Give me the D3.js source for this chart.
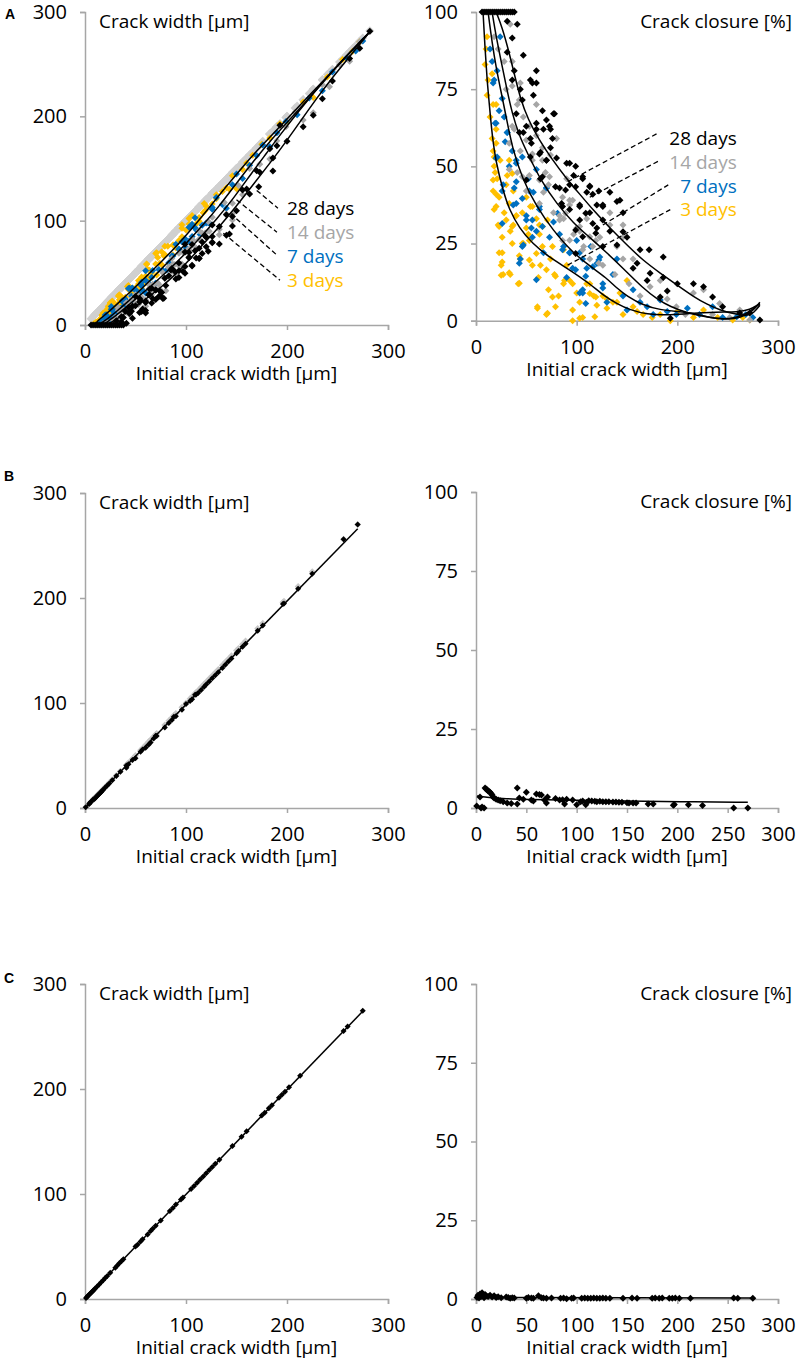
<!DOCTYPE html>
<html>
<head>
<meta charset="utf-8">
<script src="https://cdn.jsdelivr.net/npm/d3@7"></script>
<style>
  body { margin: 0; background: #fff; }
  text { font-family: "Open Sans", sans-serif; }
</style>
</head>
<body>
<div id="chart"></div>
<script>
// ---- data: [initial crack width (µm), crack closure (%)] ----
var dayNames = ["28 days", "14 days", "7 days", "3 days"];

var a3 = [[9,83],[10,88],[11,92],[11,73],[12,78],[14,66],[16,80],[16,59],[17,70],[17,55],[17,42],[18,36],[19,48],[20,62],
  [21,46],[22,31],[23,40],[24,52],[26,22],[26,19],[27,15],[28,35],[30,44],[31,47],[33,38],[34,29],[34,15],[36,25],[37,31],
  [37,42],[40,34],[42,12],[44,20],[47,25],[50,30],[52,28],[54,37],[56,18],[60,33],[61,4],[62,14],[63,31],[64,18],[66,24],
  [70,2],[72,10],[74,20],[78,15],[82,8],[87,12],[87,23],[90,18],[93,13],[96,0],[100,9],[103,6],[106,1],[110,12],[113,12],
  [117,8],[120,5],[126,8],[130,4],[130,7],[136,6],[140,6],[143,9],[146,2],[150,13],[156,4.5],[160,3],[166,2],[175,1],
  [183,2],[193,0],[200,3],[216,1],[226,3.5],[240,1],[255,0.2],[265,1],[272,0.2],
  [23,22],[25,18],[33,15.5],[43,12.1],[25,14.7],[43,21],[46,25],[53,26],[63,28],[66,30.5],[71,32.6],[76,24],[70,16.5],
  [79,14.4],[76,7.7],[88,13],[96,12],[61,4.5],[71,2.4],[79,4.5],[96,3.5],[103,0.8],[118,1.3],[119,7.7],[113,8.8],
  [53,19.7],[60,21.8],[36,30.5],[30,32.6],[20,37],[20,41],[17,45.6],[18,50],[18,53],[20,57.5],[20,70],[33,52],[36,47.7],
  [50,40],[56,37],[40,34],[46,35],[26,27],[23,30.5]];

var a7 = [[14,88],[16,84],[18,78],[19,64],[21,81],[21,53],[23,68],[24,92],[26,72],[27,44],[29,58],[31,61],[33,50],[36,55],
  [37,37.5],[40,52],[40,45],[44,20],[46,39.6],[47,24.5],[50,34],[52,46],[55,30],[57,41.6],[60,29],[63,36],[67,22],[70,43],
  [73,27],[77,32],[83,28],[87,24],[90,14],[93,22],[96,17],[100,26],[103,22],[103,9],[106,20],[106,9],[110,17],[114,24],
  [120,18.5],[123,20.6],[126,10.6],[126,12],[130,6],[136,15],[140,20],[146,8],[150,3.5],[156,10],[163,6],[170,4.5],
  [176,2],[183,6.7],[190,3],[199,2],[210,4],[222,2],[235,4.5],[245,1],[259,1.3],[268,2],[275,1],
  [17,77],[28,66],[20,64],[31,61],[20,52.6],[40,51],[46,53],[26,42],[38,43],[53,42],[70,43],[60,49],[40,38],[50,32.6],
  [26,31.5],[56,32.6],[63,37],[66,30.5],[81,34.8],[46,24],[56,27],[43,18.6],[60,13.3],[86,23],[93,22],[99,16.5],
  [109,14.4],[106,10],[116,17.5],[122,19.7],[109,5.6]];

var a14 = [[18,92],[22,88],[28,84],[30,75],[34,96],[36,84],[38,62],[41,70],[41,48],[44,77],[44,55],[47,66],[50,42],[53,63],
  [53,47],[56,52],[60,70],[60,60],[63,38],[66,56],[67,41.6],[69,48],[72,44],[74,53.7],[77,35],[80,59],[83,34],[87,33],
  [90,46],[93,37.5],[93,39],[97,28],[100,30],[103,29],[107,24],[110,33],[113,20],[119,26],[123,27],[126,18],[133,31],
  [133,35],[138,15],[140,24],[146,27],[146,20],[146,31],[152,12],[156,20],[163,8],[173,11],[183,13],[190,7],[199,4.5],
  [208,2],[216,9],[226,10],[235,2],[242,5.6],[252,1],[262,3.5],[272,0.2],
  [36,76],[43,71.5],[36,63],[50,58.5],[33,57.5],[56,54],[66,52],[33,49],[46,46.6],[63,45.6],[73,46.6],[79,43.4],
  [89,34.8],[96,39],[86,40],[103,30.5],[83,32.6],[93,26.1],[113,27.2],[86,26],[106,23],[116,24],[122,18.6]];

var a28 = [[6,100],[8,100],[10,100],[12,100],[14,100],[16,100],[18,100],[20,100],[22,100],[24,100],[26,100],[28,100],
  [30,100],[32,100],[34,100],[36,100],[38,100],
  [31,97],[41,96],[36,91.6],[31,87],[47,86],[38,81],[60,81],[54,78],[44,75],[60,77],[57,73],[77,67],[70,65],[60,64],
  [54,59],[67,62],[74,62],[47,61],[64,54.6],[74,56],[54,53],[80,52.7],[64,46],[90,51],[97,47],[93,44],[106,46],[110,41.6],
  [83,43],[120,37.5],[126,37.5],[113,35],[103,37.5],[140,38.6],[146,35],[146,28.8],[133,29],[140,24.5],[113,43.6],
  [133,41.6],[143,39],[103,32.6],[126,32.6],[150,27],[163,23],[172,23],[186,20.6],[160,18.6],[173,15.4],[186,14],
  [190,9.6],[200,12],[216,12],[226,11],[235,7.7],[245,4.5],[262,2.5],[272,2.5],[282,0.2],[193,0.8],[183,7.7],[170,13],
  [70,52],[85,38],[120,30],[156,17],
  [36,78],[56,77],[46,71.5],[40,67],[66,68],[78,67],[50,63],[60,62],[43,61],[73,63],[76,59],[55,57.5],[63,54],[70,52],
  [50,45.6],[66,46.6],[79,43.4],[93,51],[99,50],[106,46.6],[113,43.4],[116,41],[99,43.4],[89,42.3],[86,37],[103,37],
  [109,34.8],[122,42],[126,37],[99,29.4],[106,27.2],[116,31.5],[119,28.3],[126,24],[99,21.8],[93,36]];

// trend lines, crack closure (%) vs initial width
var t3 = [[7,100],[9,88],[11,78],[13,71],[16,60],[20,51],[27,42],[33,36],[43,30],[56,25],[73,20.5],[93,16.5],[113,12],
  [126,8.3],[140,5.5],[153,3.5],[170,2],[190,1.8],[210,2.3],[240,2.8],[260,2.8],[272,3.5],[282,5.5]];
var t7 = [[12,100],[16,90],[20,82],[25,74],[30,66],[36,56],[46,46],[60,37],[76,29.5],[96,22],[116,17],[129,14],[140,10.5],
  [150,8],[166,5],[183,3.5],[200,3],[216,2.5],[230,1.2],[242,0.5],[258,0.8],[270,2.5],[282,5.5]];
var t14 = [[16,100],[20,92],[25,84],[30,76],[36,67],[43,60],[50,55],[65,45],[80,38],[97,31.5],[113,27],[130,22],[146,17],
  [166,10.5],[180,7],[193,4.5],[210,2.5],[226,1.3],[249,0.3],[263,1],[275,3],[282,6]];
var t28 = [[20,100],[26,95],[32,88],[38,80],[44,72],[52,65],[62,59],[75,52.5],[90,46],[103,41],[116,36],[133,30],
  [150,24.5],[166,19.5],[183,15.4],[200,11.5],[216,7.8],[230,5.2],[242,3.5],[256,2.2],[269,1.5],[276,2.5],[282,5]];

// trend lines, crack width (µm) vs initial width
var w3 = [[10,0],[12,3.6],[16,6.7],[20,10],[27,15.7],[35,23],[44,31],[60,46],[75,60],[93,78],[110,97],[126,116],[140,133],
  [153,148],[170,167],[190,187],[210,208],[240,238],[260,259],[282,281]];
var w7 = [[14,0],[16,1.9],[20,4.4],[24,7.2],[30,12],[41,21],[52,31],[67,45],[83,61],[100,78],[117,96],[133,114],[150,136],
  [166,156],[183,176],[200,194],[216,211],[242,240],[262,261],[282,281]];
var w14 = [[18,0],[21,2.5],[26,5.7],[31,9.3],[40,16.4],[50,25],[65,37],[80,50],[97,66],[113,82.5],[130,101],[146,120],
  [166,147],[180,165],[193,182],[210,203],[226,222],[249,248],[282,281]];
var w28 = [[21,0],[25,2],[32,5.8],[41,12.3],[50,18],[60,24.6],[75,36],[90,48.6],[103,62],[116,76.6],[133,94],[150,114],
  [166,134],[183,155],[200,177],[216,199],[230,218],[242,233.5],[256,250],[269,265.5],[282,281]];

var b = [[0.7,0.6],[4,3.5],[5,0],[6,0.3],[8,0],[9,6.3],[10,6],[11,5.8],[12,5.4],[13,5.2],[14,5],[15,4.6],[16,4.1],
  [17,3.5],[18,3.2],[20,2.8],[22,2.5],[24,2.3],[27,2],[31,1.6],[35,1.4],[41,1.3],[41,6.3],[43,3.2],[47,2.8],[50,5],
  [55,2.5],[57,2.2],[60,4.4],[63,4.3],[65,4.1],[68,2.5],[70,1.6],[71,3.5],[79,3],[83,2.5],[86,2.6],[88,1.3],[90,2.8],
  [96,2.5],[100,1],[104,2],[106,2.2],[109,1],[110,1.8],[112,2.3],[115,2.2],[118,2.1],[120,2],[123,2.1],[126,2],[129,2],
  [132,2],[136,1.9],[139,1.9],[142,1.8],[145,1.8],[150,1.7],[152,1.6],[156,1.6],[159,1.6],[171,1.3],[176,1.3],[196,0.9],
  [197,1.1],[211,1],[225,0.8],[256,0],[270,0]];
var bTrend = [[1,3.8],[10,3.4],[25,3.0],[50,2.7],[100,2.4],[150,2.2],[200,2.0],[270,1.8]];
var bWidthTrend = [[1,1],[270,266]];

var c = [[1,0.5],[2,1.2],[3,0.3],[4,1.6],[5,0.8],[6,2],[7,1.2],[8,0.4],[9,1.4],[10,1],[12,0.8],[14,1.2],[16,0.6],[18,1],
  [20,0.5],[22,0.7],[25,0.4],[30,0.6],[32,0.5],[34,0.2],[36,0.4],[38,0.3],[50,0.2],[52,0.5],[55,0.3],[57,0.2],[62,1],
  [65,0.4],[67,0.3],[70,0.2],[75,0.3],[84,0.2],[87,0.3],[90,0.1],[95,0.2],[97,0.3],[105,0.2],[108,0.3],[111,0.2],
  [114,0.2],[117,0.3],[120,0.2],[123,0.2],[126,0.3],[129,0.2],[133,0.2],[146,0.2],[155,0.3],[160,0.2],[175,0.2],
  [178,0.3],[182,0.2],[185,0.3],[192,0.2],[195,0.2],[198,0.3],[202,0.2],[213,0.2],[256,0.3],[260,0.2],[275,0.2]];
var cTrend = [[0,0.5],[275,0.3]];
var cWidthTrend = [[0,0],[275,274]];

var xTicksWide = [0, 100, 200, 300],
    xTicksFine = [0, 50, 100, 150, 200, 250, 300],
    yTicksWidth = [0, 100, 200, 300],
    yTicksClosure = [0, 25, 50, 75, 100];

// ---- drawing ----
var W = 798, H = 1361;
var axisColor = "#a6a6a6";
var seriesColors = { "3": "#FFC000", "7": "#0070C0", "14": "#A6A6A6", "28": "#000000" };

var svg = d3.select("#chart").append("svg")
    .attr("width", W)
    .attr("height", H);
svg.append("rect").attr("width", W).attr("height", H).attr("fill", "#fff");

function diamond(r) {
    return "M0," + (-r) + "L" + r + ",0L0," + r + "L" + (-r) + ",0Z";
}

function widthOf(d) { return d[0] * (1 - d[1] / 100); }
function closureOf(d) { return d[1]; }
function initialOf(d) { return d[0]; }

function makePanel(o) {
    var x = d3.scaleLinear().domain([0, 300]).range([o.left, o.right]);
    var y = d3.scaleLinear().domain([0, o.ymax]).range([o.bottom, o.top]);
    var g = svg.append("g");

    var xa = g.append("g")
        .attr("transform", "translate(0," + o.bottom + ")")
        .call(d3.axisBottom(x).tickValues(o.xticks).tickSize(5).tickPadding(14));
    var ya = g.append("g")
        .attr("transform", "translate(" + o.left + ",0)")
        .call(d3.axisLeft(y).tickValues(o.yticks).tickSize(5).tickPadding(13));
    [xa, ya].forEach(function(a) {
        a.selectAll("path, line").attr("stroke", axisColor).attr("stroke-width", 1.5);
        a.selectAll("text").attr("fill", "#000").style("font-size", "20px")
            .style("font-family", "'Open Sans', sans-serif");
    });

    g.append("text")
        .attr("x", (o.left + o.right) / 2)
        .attr("y", o.bottom + 55)
        .attr("text-anchor", "middle")
        .style("font-size", "19px")
        .text("Initial crack width [µm]");

    if (o.closure) {
        g.append("text").attr("x", 792).attr("y", o.top + 16)
            .attr("text-anchor", "end").style("font-size", "19px")
            .text("Crack closure [%]");
    } else {
        g.append("text").attr("x", 99).attr("y", o.top + 16)
            .style("font-size", "19px")
            .text("Crack width [µm]");
    }
    return { g: g, x: x, y: y };
}

function points(p, data, color, r, yAcc) {
    p.g.append("g").selectAll("path")
        .data(data)
        .enter().append("path")
        .attr("d", diamond(r))
        .attr("transform", function(d) { return "translate(" + p.x(d[0]) + "," + p.y(yAcc(d)) + ")"; })
        .attr("fill", color);
}

function trend(p, data, curve) {
    var line = d3.line()
        .x(function(d) { return p.x(d[0]); })
        .y(function(d) { return p.y(d[1]); })
        .curve(curve || d3.curveLinear);
    p.g.append("path").datum(data)
        .attr("d", line)
        .attr("fill", "none")
        .attr("stroke", "#000")
        .attr("stroke-width", 1.5);
}

function note(p, from, to, label, color, anchor) {
    p.g.append("line")
        .attr("x1", p.x(from[0])).attr("y1", p.y(from[1]))
        .attr("x2", p.x(to[0])).attr("y2", p.y(to[1]))
        .attr("stroke", "#000").attr("stroke-width", 1.3)
        .attr("stroke-dasharray", "5,3");
    p.g.append("text")
        .attr("x", p.x(label[0])).attr("y", p.y(label[1]))
        .attr("dy", "0.35em")
        .attr("text-anchor", anchor)
        .attr("fill", color)
        .style("font-size", "19px")
        .text(label[2]);
}

function panelLetter(t, px, py) {
    svg.append("text").attr("x", px).attr("y", py)
        .attr("text-anchor", "middle").attr("dy", "0.36em")
        .style("font-family", "'Liberation Sans', Arial, sans-serif")
        .style("font-weight", "bold").style("font-size", "14px")
        .text(t);
}

var seriesA = [[a3, "3"], [a7, "7"], [a14, "14"], [a28, "28"]];
var allA = a3.concat(a7, a14, a28);
var noteColors = [seriesColors["28"], seriesColors["14"], seriesColors["7"], seriesColors["3"]];

// ---- A ----
var pA1 = makePanel({ left: 85, right: 388, top: 12, bottom: 325, ymax: 300, xticks: xTicksWide, yticks: yTicksWidth });
points(pA1, allA, "#d0d0d0", 4.5, initialOf);
seriesA.forEach(function(s) { points(pA1, s[0], seriesColors[s[1]], 3.5, widthOf); });
[w3, w7, w14, w28].forEach(function(t) { trend(pA1, t, d3.curveBasis); });
var leftNotes = [[[170,129],[191,112],[200,112]], [[150,120],[190,89],[200,89]],
                 [[144,107],[190,67],[200,66]], [[137,88],[193,43],[200,43]]];
leftNotes.forEach(function(n, i) {
    note(pA1, n[0], n[1], [n[2][0], n[2][1], dayNames[i]], noteColors[i], "start");
});

var pA2 = makePanel({ left: 476, right: 778, top: 12, bottom: 320.7, ymax: 100, xticks: xTicksWide, yticks: yTicksClosure, closure: true });
seriesA.forEach(function(s) { points(pA2, s[0], seriesColors[s[1]], 3.5, closureOf); });
[t3, t7, t14, t28].forEach(function(t) { trend(pA2, t, d3.curveBasis); });
var rightNotes = [[[91,45],[181,60.8],[259,59]], [[113,40],[183,52],[259,51.4]],
                  [[126,31],[191,44],[259,43.6]], [[91,18],[193,36],[259,36]]];
rightNotes.forEach(function(n, i) {
    note(pA2, n[0], n[1], [n[2][0], n[2][1], dayNames[i]], noteColors[i], "end");
});
panelLetter("A", 10, 14);

// ---- B ----
var pB1 = makePanel({ left: 85, right: 388, top: 493, bottom: 808, ymax: 300, xticks: xTicksWide, yticks: yTicksWidth });
points(pB1, b, "#c8c8c8", 3.5, initialOf);
points(pB1, b, "#000", 3, widthOf);
trend(pB1, bWidthTrend);
var pB2 = makePanel({ left: 476, right: 778, top: 492, bottom: 808, ymax: 100, xticks: xTicksFine, yticks: yTicksClosure, closure: true });
points(pB2, b, "#000", 3.5, closureOf);
trend(pB2, bTrend, d3.curveBasis);
panelLetter("B", 9, 476);

// ---- C ----
var pC1 = makePanel({ left: 85, right: 388, top: 984, bottom: 1299, ymax: 300, xticks: xTicksWide, yticks: yTicksWidth });
points(pC1, c, "#000", 3, widthOf);
trend(pC1, cWidthTrend);
var pC2 = makePanel({ left: 476, right: 778, top: 984, bottom: 1299, ymax: 100, xticks: xTicksFine, yticks: yTicksClosure, closure: true });
points(pC2, c, "#000", 3.5, closureOf);
trend(pC2, cTrend);
panelLetter("C", 9, 978);
</script>
</body>
</html>
